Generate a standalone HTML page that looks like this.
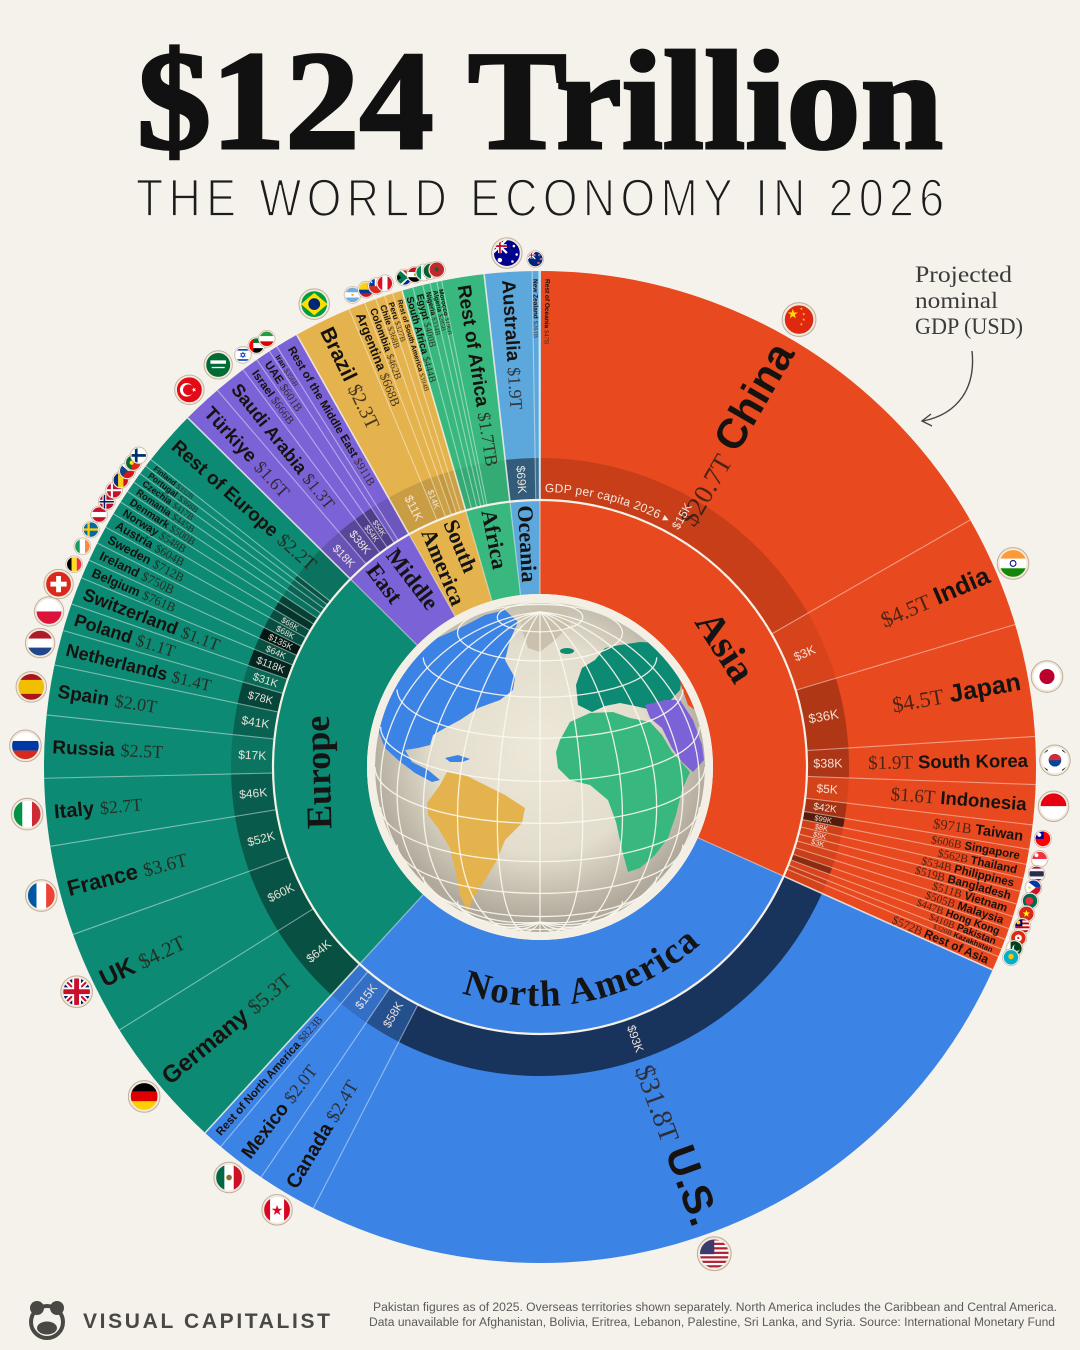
<!DOCTYPE html>
<html><head><meta charset="utf-8">
<style>
html,body{margin:0;padding:0;background:#f5f2eb;}
svg{display:block}
.n{font-family:"Liberation Sans",sans-serif;font-weight:bold;fill:#161210}
.v{font-family:"Liberation Serif",serif;fill:#2a1c14;fill-opacity:.82}
.b{font-family:"Liberation Sans",sans-serif;fill:#f7ece2;fill-opacity:.93}
.c{font-family:"Liberation Serif",serif;font-weight:bold;fill:#141414}
</style></head><body>
<svg width="1080" height="1350" viewBox="0 0 1080 1350" xmlns="http://www.w3.org/2000/svg">
<defs>
<clipPath id="fc"><circle r="10"/></clipPath>
<clipPath id="gc"><circle cx="540" cy="767" r="165"/></clipPath>
<radialGradient id="gg" cx="540" cy="748" r="172" gradientUnits="userSpaceOnUse">
<stop offset="0" stop-color="#eee8da"/><stop offset=".62" stop-color="#e3ddcd"/><stop offset="1" stop-color="#b1aa9c"/>
</radialGradient>
<line id="sep" x1="540" y1="500" x2="540" y2="271"/>
<line id="sepi" x1="540" y1="594" x2="540" y2="500"/>
<path id="naP" d="M317.95 855.36 A239 239 0 0 0 778.9 759.9" fill="none"/>
<path id="gdpP" d="M544.8 492.0 A275 275 0 0 1 716.8 556.3" fill="none"/>
<polygon id="st" points="0,-1 .225,-.309 .951,-.309 .363,.118 .588,.809 0,.382 -.588,.809 -.363,.118 -.951,-.309 -.225,-.309"/>
<g id="fo"><circle r="10" fill="none" stroke="#f2eadc" stroke-width="1.6"/><circle r="10.9" fill="none" stroke="#8f6e58" stroke-opacity=".5" stroke-width=".7"/></g>

<g id="f-cn"><g clip-path="url(#fc)"><rect x="-10" y="-10" width="20" height="20" fill="#de2910"/><use href="#st" fill="#ffde00" transform="translate(-4 -3.5) scale(3.4)"/><use href="#st" fill="#ffde00" transform="translate(1.5 -7)"/><use href="#st" fill="#ffde00" transform="translate(3 -3.5)"/><use href="#st" fill="#ffde00" transform="translate(3 0)"/><use href="#st" fill="#ffde00" transform="translate(1.5 3)"/></g><use href="#fo"/></g>
<g id="f-in"><g clip-path="url(#fc)"><rect x="-10" y="-10" width="20" height="6.7" fill="#ff9933"/><rect x="-10" y="-3.33" width="20" height="6.7" fill="#fff"/><rect x="-10" y="3.33" width="20" height="6.7" fill="#138808"/><circle r="2" fill="none" stroke="#000080" stroke-width=".7"/></g><use href="#fo"/></g>
<g id="f-jp"><g clip-path="url(#fc)"><rect x="-10" y="-10" width="20" height="20" fill="#fff"/><circle r="5.2" fill="#bc002d"/></g><use href="#fo"/></g>
<g id="f-kr"><g clip-path="url(#fc)"><rect x="-10" y="-10" width="20" height="20" fill="#fff"/><circle r="4.5" fill="#0047a0"/><path d="M-4.5 0A4.5 4.5 0 0 1 4.5 0Z" fill="#cd2e3a"/><g fill="#111"><rect x="-8.5" y="-7" width="3.5" height="1.2" transform="rotate(-35 -6.7 -6.4)"/><rect x="5" y="-7" width="3.5" height="1.2" transform="rotate(35 6.7 -6.4)"/><rect x="-8.5" y="5.8" width="3.5" height="1.2" transform="rotate(35 -6.7 6.4)"/><rect x="5" y="5.8" width="3.5" height="1.2" transform="rotate(-35 6.7 6.4)"/></g></g><use href="#fo"/></g>
<g id="f-id"><g clip-path="url(#fc)"><rect x="-10" y="-10" width="20" height="10" fill="#e70011"/><rect x="-10" y="0" width="20" height="10" fill="#fff"/></g><use href="#fo"/></g>
<g id="f-tw"><g clip-path="url(#fc)"><rect x="-10" y="-10" width="20" height="20" fill="#fe0000"/><rect x="-10" y="-10" width="11" height="10" fill="#000095"/><circle cx="-4.5" cy="-5" r="2.6" fill="#fff"/></g><use href="#fo"/></g>
<g id="f-sg"><g clip-path="url(#fc)"><rect x="-10" y="-10" width="20" height="10" fill="#ef3340"/><rect x="-10" y="0" width="20" height="10" fill="#fff"/><circle cx="-4" cy="-5" r="2.5" fill="#fff"/></g><use href="#fo"/></g>
<g id="f-th"><g clip-path="url(#fc)"><rect x="-10" y="-10" width="20" height="20" fill="#a51931"/><rect x="-10" y="-6.67" width="20" height="13.3" fill="#f4f5f8"/><rect x="-10" y="-3.33" width="20" height="6.67" fill="#2d2a4a"/></g><use href="#fo"/></g>
<g id="f-ph"><g clip-path="url(#fc)"><rect x="-10" y="-10" width="20" height="10" fill="#0038a8"/><rect x="-10" y="0" width="20" height="10" fill="#ce1126"/><polygon points="-10,-10 -10,10 3,0" fill="#fff"/><circle cx="-5" cy="0" r="1.6" fill="#fcd116"/></g><use href="#fo"/></g>
<g id="f-bd"><g clip-path="url(#fc)"><rect x="-10" y="-10" width="20" height="20" fill="#006a4e"/><circle cx="-1" r="5" fill="#f42a41"/></g><use href="#fo"/></g>
<g id="f-vn"><g clip-path="url(#fc)"><rect x="-10" y="-10" width="20" height="20" fill="#da251d"/><use href="#st" fill="#ffff00" transform="scale(5)"/></g><use href="#fo"/></g>
<g id="f-my"><g clip-path="url(#fc)"><rect x="-10" y="-10" width="20" height="20" fill="#fff"/><g fill="#cc0001"><rect x="-10" y="-10" width="20" height="2.5"/><rect x="-10" y="-5" width="20" height="2.5"/><rect x="-10" y="0" width="20" height="2.5"/><rect x="-10" y="5" width="20" height="2.5"/></g><rect x="-10" y="-10" width="10" height="10" fill="#010066"/><circle cx="-5" cy="-5" r="2.5" fill="#fc0"/></g><use href="#fo"/></g>
<g id="f-hk"><g clip-path="url(#fc)"><rect x="-10" y="-10" width="20" height="20" fill="#de2910"/><circle r="4.5" fill="#fff"/><circle r="1.5" fill="#de2910"/></g><use href="#fo"/></g>
<g id="f-pk"><g clip-path="url(#fc)"><rect x="-10" y="-10" width="20" height="20" fill="#01411c"/><rect x="-10" y="-10" width="5" height="20" fill="#fff"/><circle cx="2" r="5" fill="#fff"/><circle cx="3.4" cy="-1.2" r="4.3" fill="#01411c"/></g><use href="#fo"/></g>
<g id="f-kz"><g clip-path="url(#fc)"><rect x="-10" y="-10" width="20" height="20" fill="#00afca"/><circle cy="-1" r="3.5" fill="#fec50c"/></g><use href="#fo"/></g>
<g id="f-us"><g clip-path="url(#fc)"><rect x="-10" y="-10" width="20" height="20" fill="#fff"/><g fill="#b22234"><rect x="-10" y="-10" width="20" height="1.45"/><rect x="-10" y="-7.1" width="20" height="1.45"/><rect x="-10" y="-4.2" width="20" height="1.45"/><rect x="-10" y="-1.3" width="20" height="1.45"/><rect x="-10" y="1.6" width="20" height="1.45"/><rect x="-10" y="4.5" width="20" height="1.45"/><rect x="-10" y="7.4" width="20" height="1.45"/></g><rect x="-10" y="-10" width="10" height="10.3" fill="#3c3b6e"/></g><use href="#fo"/></g>
<g id="f-ca"><g clip-path="url(#fc)"><rect x="-10" y="-10" width="20" height="20" fill="#fff"/><rect x="-10" y="-10" width="5" height="20" fill="#d80621"/><rect x="5" y="-10" width="5" height="20" fill="#d80621"/><use href="#st" fill="#d80621" transform="translate(0 .5) scale(4)"/></g><use href="#fo"/></g>
<g id="f-mx"><g clip-path="url(#fc)"><rect x="-10" y="-10" width="6.7" height="20" fill="#006847"/><rect x="-3.33" y="-10" width="6.7" height="20" fill="#fff"/><rect x="3.33" y="-10" width="6.7" height="20" fill="#ce1126"/><circle r="2" fill="#8c6a2c"/></g><use href="#fo"/></g>
<g id="f-de"><g clip-path="url(#fc)"><rect x="-10" y="-10" width="20" height="6.7" fill="#000"/><rect x="-10" y="-3.33" width="20" height="6.7" fill="#dd0000"/><rect x="-10" y="3.33" width="20" height="6.7" fill="#ffce00"/></g><use href="#fo"/></g>
<g id="f-gb"><g clip-path="url(#fc)"><rect x="-10" y="-10" width="20" height="20" fill="#012169"/><path d="M-10-10L10 10M10-10L-10 10" stroke="#fff" stroke-width="4"/><path d="M-10-10L10 10M10-10L-10 10" stroke="#c8102e" stroke-width="1.4"/><path d="M0-10V10M-10 0H10" stroke="#fff" stroke-width="6"/><path d="M0-10V10M-10 0H10" stroke="#c8102e" stroke-width="3.4"/></g><use href="#fo"/></g>
<g id="f-fr"><g clip-path="url(#fc)"><rect x="-10" y="-10" width="6.7" height="20" fill="#0055a4"/><rect x="-3.33" y="-10" width="6.7" height="20" fill="#fff"/><rect x="3.33" y="-10" width="6.7" height="20" fill="#ef4135"/></g><use href="#fo"/></g>
<g id="f-it"><g clip-path="url(#fc)"><rect x="-10" y="-10" width="6.7" height="20" fill="#009246"/><rect x="-3.33" y="-10" width="6.7" height="20" fill="#fff"/><rect x="3.33" y="-10" width="6.7" height="20" fill="#ce2b37"/></g><use href="#fo"/></g>
<g id="f-ru"><g clip-path="url(#fc)"><rect x="-10" y="-10" width="20" height="6.7" fill="#fff"/><rect x="-10" y="-3.33" width="20" height="6.7" fill="#0039a6"/><rect x="-10" y="3.33" width="20" height="6.7" fill="#d52b1e"/></g><use href="#fo"/></g>
<g id="f-es"><g clip-path="url(#fc)"><rect x="-10" y="-10" width="20" height="20" fill="#aa151b"/><rect x="-10" y="-5" width="20" height="10" fill="#f1bf00"/></g><use href="#fo"/></g>
<g id="f-nl"><g clip-path="url(#fc)"><rect x="-10" y="-10" width="20" height="6.7" fill="#ae1c28"/><rect x="-10" y="-3.33" width="20" height="6.7" fill="#fff"/><rect x="-10" y="3.33" width="20" height="6.7" fill="#21468b"/></g><use href="#fo"/></g>
<g id="f-pl"><g clip-path="url(#fc)"><rect x="-10" y="-10" width="20" height="10" fill="#fff"/><rect x="-10" y="0" width="20" height="10" fill="#dc143c"/></g><use href="#fo"/></g>
<g id="f-ch"><g clip-path="url(#fc)"><rect x="-10" y="-10" width="20" height="20" fill="#da291c"/><rect x="-1.8" y="-6" width="3.6" height="12" fill="#fff"/><rect x="-6" y="-1.8" width="12" height="3.6" fill="#fff"/></g><use href="#fo"/></g>
<g id="f-be"><g clip-path="url(#fc)"><rect x="-10" y="-10" width="6.7" height="20" fill="#000"/><rect x="-3.33" y="-10" width="6.7" height="20" fill="#fdda24"/><rect x="3.33" y="-10" width="6.7" height="20" fill="#ef3340"/></g><use href="#fo"/></g>
<g id="f-ie"><g clip-path="url(#fc)"><rect x="-10" y="-10" width="6.7" height="20" fill="#169b62"/><rect x="-3.33" y="-10" width="6.7" height="20" fill="#fff"/><rect x="3.33" y="-10" width="6.7" height="20" fill="#ff883e"/></g><use href="#fo"/></g>
<g id="f-se"><g clip-path="url(#fc)"><rect x="-10" y="-10" width="20" height="20" fill="#006aa7"/><rect x="-4.5" y="-10" width="3" height="20" fill="#fecc00"/><rect x="-10" y="-1.5" width="20" height="3" fill="#fecc00"/></g><use href="#fo"/></g>
<g id="f-at"><g clip-path="url(#fc)"><rect x="-10" y="-10" width="20" height="20" fill="#c8102e"/><rect x="-10" y="-3.33" width="20" height="6.7" fill="#fff"/></g><use href="#fo"/></g>
<g id="f-no"><g clip-path="url(#fc)"><rect x="-10" y="-10" width="20" height="20" fill="#ba0c2f"/><rect x="-5.5" y="-10" width="5" height="20" fill="#fff"/><rect x="-10" y="-2.5" width="20" height="5" fill="#fff"/><rect x="-4" y="-10" width="2" height="20" fill="#00205b"/><rect x="-10" y="-1" width="20" height="2" fill="#00205b"/></g><use href="#fo"/></g>
<g id="f-dk"><g clip-path="url(#fc)"><rect x="-10" y="-10" width="20" height="20" fill="#c8102e"/><rect x="-4" y="-10" width="2.6" height="20" fill="#fff"/><rect x="-10" y="-1.3" width="20" height="2.6" fill="#fff"/></g><use href="#fo"/></g>
<g id="f-ro"><g clip-path="url(#fc)"><rect x="-10" y="-10" width="6.7" height="20" fill="#002b7f"/><rect x="-3.33" y="-10" width="6.7" height="20" fill="#fcd116"/><rect x="3.33" y="-10" width="6.7" height="20" fill="#ce1126"/></g><use href="#fo"/></g>
<g id="f-cz"><g clip-path="url(#fc)"><rect x="-10" y="-10" width="20" height="10" fill="#fff"/><rect x="-10" y="0" width="20" height="10" fill="#d7141a"/><polygon points="-10,-10 -10,10 1,0" fill="#11457e"/></g><use href="#fo"/></g>
<g id="f-pt"><g clip-path="url(#fc)"><rect x="-10" y="-10" width="20" height="20" fill="#da291c"/><rect x="-10" y="-10" width="8" height="20" fill="#046a38"/><circle cx="-2" r="2.6" fill="#ffe000"/></g><use href="#fo"/></g>
<g id="f-fi"><g clip-path="url(#fc)"><rect x="-10" y="-10" width="20" height="20" fill="#fff"/><rect x="-5" y="-10" width="3.5" height="20" fill="#002f6c"/><rect x="-10" y="-1.75" width="20" height="3.5" fill="#002f6c"/></g><use href="#fo"/></g>
<g id="f-tr"><g clip-path="url(#fc)"><rect x="-10" y="-10" width="20" height="20" fill="#e30a17"/><circle cx="-2" r="5" fill="#fff"/><circle cx="-.7" r="4" fill="#e30a17"/><use href="#st" fill="#fff" transform="translate(3.4 0) rotate(-18) scale(1.9)"/></g><use href="#fo"/></g>
<g id="f-sa"><g clip-path="url(#fc)"><rect x="-10" y="-10" width="20" height="20" fill="#006c35"/><rect x="-6" y="-3.5" width="12" height="2.6" fill="#fff"/><rect x="-5" y="1.5" width="10" height="1" fill="#fff"/></g><use href="#fo"/></g>
<g id="f-il"><g clip-path="url(#fc)"><rect x="-10" y="-10" width="20" height="20" fill="#fff"/><rect x="-10" y="-7.5" width="20" height="2" fill="#0038b8"/><rect x="-10" y="5.5" width="20" height="2" fill="#0038b8"/><polygon points="0,-3.5 3,1.75 -3,1.75" fill="none" stroke="#0038b8" stroke-width=".8"/><polygon points="0,3.5 3,-1.75 -3,-1.75" fill="none" stroke="#0038b8" stroke-width=".8"/></g><use href="#fo"/></g>
<g id="f-ae"><g clip-path="url(#fc)"><rect x="-10" y="-10" width="20" height="6.7" fill="#00732f"/><rect x="-10" y="-3.33" width="20" height="6.7" fill="#fff"/><rect x="-10" y="3.33" width="20" height="6.7" fill="#000"/><rect x="-10" y="-10" width="6" height="20" fill="#ff0000"/></g><use href="#fo"/></g>
<g id="f-ir"><g clip-path="url(#fc)"><rect x="-10" y="-10" width="20" height="6.7" fill="#239f40"/><rect x="-10" y="-3.33" width="20" height="6.7" fill="#fff"/><rect x="-10" y="3.33" width="20" height="6.7" fill="#da0000"/></g><use href="#fo"/></g>
<g id="f-br"><g clip-path="url(#fc)"><rect x="-10" y="-10" width="20" height="20" fill="#009c3b"/><polygon points="0,-8 9.5,0 0,8 -9.5,0" fill="#ffdf00"/><circle r="4.2" fill="#002776"/></g><use href="#fo"/></g>
<g id="f-ar"><g clip-path="url(#fc)"><rect x="-10" y="-10" width="20" height="20" fill="#74acdf"/><rect x="-10" y="-3.33" width="20" height="6.7" fill="#fff"/><circle r="1.6" fill="#f6b40e"/></g><use href="#fo"/></g>
<g id="f-co"><g clip-path="url(#fc)"><rect x="-10" y="-10" width="20" height="10" fill="#fcd116"/><rect x="-10" y="0" width="20" height="5" fill="#003893"/><rect x="-10" y="5" width="20" height="5" fill="#ce1126"/></g><use href="#fo"/></g>
<g id="f-cl"><g clip-path="url(#fc)"><rect x="-10" y="-10" width="20" height="10" fill="#fff"/><rect x="-10" y="0" width="20" height="10" fill="#d52b1e"/><rect x="-10" y="-10" width="8" height="10" fill="#0039a6"/><use href="#st" fill="#fff" transform="translate(-6 -5) scale(1.8)"/></g><use href="#fo"/></g>
<g id="f-pe"><g clip-path="url(#fc)"><rect x="-10" y="-10" width="20" height="20" fill="#d91023"/><rect x="-3.33" y="-10" width="6.7" height="20" fill="#fff"/></g><use href="#fo"/></g>
<g id="f-za"><g clip-path="url(#fc)"><rect x="-10" y="-10" width="20" height="10" fill="#de3831"/><rect x="-10" y="0" width="20" height="10" fill="#002395"/><polygon points="-10,-10 -3,-10 4,-3 10,-3 10,3 4,3 -3,10 -10,10" fill="#fff"/><polygon points="-10,-8 -4.5,-8 2.5,-1.8 10,-1.8 10,1.8 2.5,1.8 -4.5,8 -10,8" fill="#007a4d"/><polygon points="-10,-5 -10,5 -3.5,0" fill="#000"/></g><use href="#fo"/></g>
<g id="f-eg"><g clip-path="url(#fc)"><rect x="-10" y="-10" width="20" height="6.7" fill="#ce1126"/><rect x="-10" y="-3.33" width="20" height="6.7" fill="#fff"/><rect x="-10" y="3.33" width="20" height="6.7" fill="#000"/><circle r="1.5" fill="#c09300"/></g><use href="#fo"/></g>
<g id="f-ng"><g clip-path="url(#fc)"><rect x="-10" y="-10" width="20" height="20" fill="#008751"/><rect x="-3.33" y="-10" width="6.7" height="20" fill="#fff"/></g><use href="#fo"/></g>
<g id="f-dz"><g clip-path="url(#fc)"><rect x="-10" y="-10" width="10" height="20" fill="#006233"/><rect x="0" y="-10" width="10" height="20" fill="#fff"/><circle cx=".5" r="4" fill="#d21034"/><circle cx="1.8" r="3.3" fill="#f6f6f6"/></g><use href="#fo"/></g>
<g id="f-ma"><g clip-path="url(#fc)"><rect x="-10" y="-10" width="20" height="20" fill="#c1272d"/><use href="#st" fill="#006233" transform="scale(4)"/></g><use href="#fo"/></g>
<g id="f-au"><g clip-path="url(#fc)"><rect x="-10" y="-10" width="20" height="20" fill="#00008b"/><path d="M-10-10L0 0M0-10L-10 0" stroke="#fff" stroke-width="1.6"/><path d="M-5-10V0M-10-5H0" stroke="#fff" stroke-width="2.6"/><path d="M-5-10V0M-10-5H0" stroke="#c8102e" stroke-width="1.3"/><g fill="#fff"><circle cx="-5" cy="5" r="1.6"/><circle cx="5" cy="-5" r=".9"/><circle cx="7" cy="1" r=".9"/><circle cx="4" cy="6" r=".9"/></g></g><use href="#fo"/></g>
<g id="f-nz"><g clip-path="url(#fc)"><rect x="-10" y="-10" width="20" height="20" fill="#00247d"/><path d="M-10-10L0 0M0-10L-10 0" stroke="#fff" stroke-width="1.6"/><path d="M-5-10V0M-10-5H0" stroke="#fff" stroke-width="2.6"/><path d="M-5-10V0M-10-5H0" stroke="#c8102e" stroke-width="1.3"/><g fill="#cc142b" stroke="#fff" stroke-width=".4"><circle cx="5" cy="-5" r="1.2"/><circle cx="7" cy="0" r="1.2"/><circle cx="4" cy="5" r="1.2"/></g></g><use href="#fo"/></g>
</defs>

<rect width="1080" height="1350" fill="#f5f2eb"/>

<!-- Title -->
<text x="540" y="148" text-anchor="middle" font-family="Liberation Serif, serif" font-weight="bold" font-size="141" textLength="806" lengthAdjust="spacingAndGlyphs" fill="#111" stroke="#111" stroke-width="3">$124 Trillion</text>
<text transform="translate(540 216) scale(0.84 1)" x="0" y="0" text-anchor="middle" font-family="Liberation Sans, sans-serif" font-size="53" textLength="962" lengthAdjust="spacing" fill="#1c1c1c" stroke="#f5f2eb" stroke-width="1.8">THE WORLD ECONOMY IN 2026</text>

<!-- Outer ring continents -->
<g fill="none" stroke-width="229">
<circle cx="540" cy="767" r="381.5" stroke="#e8491e" stroke-dasharray="761 3000" transform="rotate(-90 540 767)"/>
<circle cx="540" cy="767" r="381.5" stroke="#3c83e6" stroke-dasharray="722.3 3000" transform="rotate(24.14 540 767)"/>
<circle cx="540" cy="767" r="381.5" stroke="#0d8a73" stroke-dasharray="615.4 3000" transform="rotate(132.47 540 767)"/>
<circle cx="540" cy="767" r="381.5" stroke="#7b62d6" stroke-dasharray="106.7 3000" transform="rotate(224.75 540 767)"/>
<circle cx="540" cy="767" r="381.5" stroke="#e4b34d" stroke-dasharray="89 3000" transform="rotate(240.63 540 767)"/>
<circle cx="540" cy="767" r="381.5" stroke="#38b77e" stroke-dasharray="65.5 3000" transform="rotate(253.85 540 767)"/>
<circle cx="540" cy="767" r="381.5" stroke="#5ca8dc" stroke-dasharray="44 3000" transform="rotate(263.53 540 767)"/>
</g>

<!-- Per-capita band -->
<g fill="none" stroke="#000" stroke-width="42">
<circle cx="540" cy="767" r="288" stroke-opacity=".14" stroke-dasharray="302.25 3000" transform="rotate(-90 540 767)"/>
<circle cx="540" cy="767" r="288" stroke-opacity=".07" stroke-dasharray="66.2 3000" transform="rotate(-29.87 540 767)"/>
<circle cx="540" cy="767" r="288" stroke-opacity=".24" stroke-dasharray="66.2 3000" transform="rotate(-16.7 540 767)"/>
<circle cx="540" cy="767" r="288" stroke-opacity=".26" stroke-dasharray="27.95 3000" transform="rotate(-3.53 540 767)"/>
<circle cx="540" cy="767" r="288" stroke-opacity=".08" stroke-dasharray="23.52 3000" transform="rotate(2.03 540 767)"/>
<circle cx="540" cy="767" r="288" stroke-opacity=".29" stroke-dasharray="14.28 3000" transform="rotate(6.71 540 767)"/>
<circle cx="540" cy="767" r="288" stroke-opacity=".62" stroke-dasharray="8.9 3000" transform="rotate(9.55 540 767)"/>
<circle cx="540" cy="767" r="288" stroke-opacity=".1" stroke-dasharray="8.24 3000" transform="rotate(11.32 540 767)"/>
<circle cx="540" cy="767" r="288" stroke-opacity=".08" stroke-dasharray="7.84 3000" transform="rotate(12.96 540 767)"/>
<circle cx="540" cy="767" r="288" stroke-opacity=".07" stroke-dasharray="7.64 3000" transform="rotate(14.52 540 767)"/>
<circle cx="540" cy="767" r="288" stroke-opacity=".08" stroke-dasharray="7.54 3000" transform="rotate(16.04 540 767)"/>
<circle cx="540" cy="767" r="288" stroke-opacity=".14" stroke-dasharray="7.44 3000" transform="rotate(17.54 540 767)"/>
<circle cx="540" cy="767" r="288" stroke-opacity=".4" stroke-dasharray="6.58 3000" transform="rotate(19.02 540 767)"/>
<circle cx="540" cy="767" r="288" stroke-opacity=".06" stroke-dasharray="6.03 3000" transform="rotate(20.33 540 767)"/>
<circle cx="540" cy="767" r="288" stroke-opacity=".14" stroke-dasharray="4.72 3000" transform="rotate(21.53 540 767)"/>
<circle cx="540" cy="767" r="288" stroke-opacity=".08" stroke-dasharray="8.39 3000" transform="rotate(22.47 540 767)"/>
<circle cx="540" cy="767" r="288" stroke-opacity=".6" stroke-dasharray="467.72 3000" transform="rotate(24.14 540 767)"/>
<circle cx="540" cy="767" r="288" stroke-opacity=".39" stroke-dasharray="35.29 3000" transform="rotate(117.19 540 767)"/>
<circle cx="540" cy="767" r="288" stroke-opacity=".14" stroke-dasharray="29.41 3000" transform="rotate(124.21 540 767)"/>
<circle cx="540" cy="767" r="288" stroke-opacity=".11" stroke-dasharray="12.11 3000" transform="rotate(130.06 540 767)"/>
<circle cx="540" cy="767" r="288" stroke-opacity=".42" stroke-dasharray="77.96 3000" transform="rotate(132.47 540 767)"/>
<circle cx="540" cy="767" r="288" stroke-opacity=".4" stroke-dasharray="61.78 3000" transform="rotate(147.98 540 767)"/>
<circle cx="540" cy="767" r="288" stroke-opacity=".35" stroke-dasharray="52.93 3000" transform="rotate(160.27 540 767)"/>
<circle cx="540" cy="767" r="288" stroke-opacity=".32" stroke-dasharray="39.71 3000" transform="rotate(170.8 540 767)"/>
<circle cx="540" cy="767" r="288" stroke-opacity=".15" stroke-dasharray="36.79 3000" transform="rotate(178.7 540 767)"/>
<circle cx="540" cy="767" r="288" stroke-opacity=".29" stroke-dasharray="29.41 3000" transform="rotate(186.02 540 767)"/>
<circle cx="540" cy="767" r="288" stroke-opacity=".5" stroke-dasharray="20.61 3000" transform="rotate(191.87 540 767)"/>
<circle cx="540" cy="767" r="288" stroke-opacity=".23" stroke-dasharray="16.19 3000" transform="rotate(195.97 540 767)"/>
<circle cx="540" cy="767" r="288" stroke-opacity=".73" stroke-dasharray="16.19 3000" transform="rotate(199.19 540 767)"/>
<circle cx="540" cy="767" r="288" stroke-opacity=".42" stroke-dasharray="11.21 3000" transform="rotate(202.41 540 767)"/>
<circle cx="540" cy="767" r="288" stroke-opacity=".83" stroke-dasharray="11.01 3000" transform="rotate(204.64 540 767)"/>
<circle cx="540" cy="767" r="288" stroke-opacity=".44" stroke-dasharray="10.46 3000" transform="rotate(206.83 540 767)"/>
<circle cx="540" cy="767" r="288" stroke-opacity=".43" stroke-dasharray="8.9 3000" transform="rotate(208.91 540 767)"/>
<circle cx="540" cy="767" r="288" stroke-opacity=".62" stroke-dasharray="8.04 3000" transform="rotate(210.68 540 767)"/>
<circle cx="540" cy="767" r="288" stroke-opacity=".53" stroke-dasharray="7.34 3000" transform="rotate(212.28 540 767)"/>
<circle cx="540" cy="767" r="288" stroke-opacity=".18" stroke-dasharray="6.53 3000" transform="rotate(213.74 540 767)"/>
<circle cx="540" cy="767" r="288" stroke-opacity=".27" stroke-dasharray="6.13 3000" transform="rotate(215.04 540 767)"/>
<circle cx="540" cy="767" r="288" stroke-opacity=".25" stroke-dasharray="5.43 3000" transform="rotate(216.26 540 767)"/>
<circle cx="540" cy="767" r="288" stroke-opacity=".39" stroke-dasharray="4.88 3000" transform="rotate(217.34 540 767)"/>
<circle cx="540" cy="767" r="288" stroke-opacity=".17" stroke-dasharray="32.37 3000" transform="rotate(218.31 540 767)"/>
<circle cx="540" cy="767" r="288" stroke-opacity=".15" stroke-dasharray="23.52 3000" transform="rotate(224.75 540 767)"/>
<circle cx="540" cy="767" r="288" stroke-opacity=".27" stroke-dasharray="19.1 3000" transform="rotate(229.43 540 767)"/>
<circle cx="540" cy="767" r="288" stroke-opacity=".36" stroke-dasharray="9.8 3000" transform="rotate(233.23 540 767)"/>
<circle cx="540" cy="767" r="288" stroke-opacity=".36" stroke-dasharray="8.85 3000" transform="rotate(235.18 540 767)"/>
<circle cx="540" cy="767" r="288" stroke-opacity=".08" stroke-dasharray="5.13 3000" transform="rotate(236.94 540 767)"/>
<circle cx="540" cy="767" r="288" stroke-opacity=".11" stroke-dasharray="13.42 3000" transform="rotate(237.96 540 767)"/>
<circle cx="540" cy="767" r="288" stroke-opacity=".12" stroke-dasharray="33.83 3000" transform="rotate(240.63 540 767)"/>
<circle cx="540" cy="767" r="288" stroke-opacity=".13" stroke-dasharray="9.8 3000" transform="rotate(247.36 540 767)"/>
<circle cx="540" cy="767" r="288" stroke-opacity=".1" stroke-dasharray="6.79 3000" transform="rotate(249.31 540 767)"/>
<circle cx="540" cy="767" r="288" stroke-opacity=".15" stroke-dasharray="5.43 3000" transform="rotate(250.66 540 767)"/>
<circle cx="540" cy="767" r="288" stroke-opacity=".1" stroke-dasharray="4.83 3000" transform="rotate(251.74 540 767)"/>
<circle cx="540" cy="767" r="288" stroke-opacity=".1" stroke-dasharray="5.78 3000" transform="rotate(252.7 540 767)"/>
<circle cx="540" cy="767" r="288" stroke-opacity=".065" stroke-dasharray="48.66 3000" transform="rotate(253.85 540 767)"/>
<circle cx="540" cy="767" r="288" stroke-opacity=".45" stroke-dasharray="27.95 3000" transform="rotate(263.53 540 767)"/>
<circle cx="540" cy="767" r="288" stroke-opacity=".34" stroke-dasharray="3.82 3000" transform="rotate(269.09 540 767)"/>
</g>

<!-- Inner continent ring -->
<g fill="none" stroke-width="94">
<circle cx="540" cy="767" r="220" stroke="#e8491e" stroke-dasharray="439.3 2000" transform="rotate(-90 540 767)"/>
<circle cx="540" cy="767" r="220" stroke="#3c83e6" stroke-dasharray="417 2000" transform="rotate(24.14 540 767)"/>
<circle cx="540" cy="767" r="220" stroke="#0d8a73" stroke-dasharray="355.3 2000" transform="rotate(132.47 540 767)"/>
<circle cx="540" cy="767" r="220" stroke="#7b62d6" stroke-dasharray="62 2000" transform="rotate(224.75 540 767)"/>
<circle cx="540" cy="767" r="220" stroke="#e4b34d" stroke-dasharray="51.8 2000" transform="rotate(240.63 540 767)"/>
<circle cx="540" cy="767" r="220" stroke="#38b77e" stroke-dasharray="38.2 2000" transform="rotate(253.85 540 767)"/>
<circle cx="540" cy="767" r="220" stroke="#5ca8dc" stroke-dasharray="25 2000" transform="rotate(263.53 540 767)"/>
</g>

<!-- Separators -->
<g stroke="#fff" stroke-opacity=".45" stroke-width="1.1">
<use href="#sep" transform="rotate(60.13 540 767)"/><use href="#sep" transform="rotate(73.3 540 767)"/><use href="#sep" transform="rotate(86.47 540 767)"/><use href="#sep" transform="rotate(92.03 540 767)"/><use href="#sep" transform="rotate(96.71 540 767)"/><use href="#sep" transform="rotate(99.55 540 767)"/><use href="#sep" transform="rotate(101.32 540 767)"/><use href="#sep" transform="rotate(102.96 540 767)"/><use href="#sep" transform="rotate(104.52 540 767)"/><use href="#sep" transform="rotate(106.04 540 767)"/><use href="#sep" transform="rotate(107.54 540 767)"/><use href="#sep" transform="rotate(109.02 540 767)"/><use href="#sep" transform="rotate(110.33 540 767)"/><use href="#sep" transform="rotate(111.53 540 767)"/><use href="#sep" transform="rotate(112.47 540 767)"/>
<use href="#sep" transform="rotate(207.19 540 767)"/><use href="#sep" transform="rotate(214.21 540 767)"/><use href="#sep" transform="rotate(220.06 540 767)"/>
<use href="#sep" transform="rotate(237.98 540 767)"/><use href="#sep" transform="rotate(250.27 540 767)"/><use href="#sep" transform="rotate(260.8 540 767)"/><use href="#sep" transform="rotate(268.7 540 767)"/><use href="#sep" transform="rotate(276.02 540 767)"/><use href="#sep" transform="rotate(281.87 540 767)"/><use href="#sep" transform="rotate(285.97 540 767)"/><use href="#sep" transform="rotate(289.19 540 767)"/><use href="#sep" transform="rotate(292.41 540 767)"/><use href="#sep" transform="rotate(294.64 540 767)"/><use href="#sep" transform="rotate(296.83 540 767)"/><use href="#sep" transform="rotate(298.91 540 767)"/><use href="#sep" transform="rotate(300.68 540 767)"/><use href="#sep" transform="rotate(302.28 540 767)"/><use href="#sep" transform="rotate(303.74 540 767)"/><use href="#sep" transform="rotate(305.04 540 767)"/><use href="#sep" transform="rotate(306.26 540 767)"/><use href="#sep" transform="rotate(307.34 540 767)"/><use href="#sep" transform="rotate(308.31 540 767)"/>
<use href="#sep" transform="rotate(319.43 540 767)"/><use href="#sep" transform="rotate(323.23 540 767)"/><use href="#sep" transform="rotate(325.18 540 767)"/><use href="#sep" transform="rotate(326.94 540 767)"/><use href="#sep" transform="rotate(327.96 540 767)"/>
<use href="#sep" transform="rotate(337.36 540 767)"/><use href="#sep" transform="rotate(339.31 540 767)"/><use href="#sep" transform="rotate(340.66 540 767)"/><use href="#sep" transform="rotate(341.74 540 767)"/><use href="#sep" transform="rotate(342.7 540 767)"/>
<use href="#sep" transform="rotate(345.15 540 767)"/><use href="#sep" transform="rotate(346.32 540 767)"/><use href="#sep" transform="rotate(347.2 540 767)"/><use href="#sep" transform="rotate(347.99 540 767)"/><use href="#sep" transform="rotate(348.56 540 767)"/>
<use href="#sep" transform="rotate(359.09 540 767)"/><use href="#sep" transform="rotate(359.85 540 767)"/>
</g>
<g stroke="#fbf6ee" stroke-opacity=".8" stroke-width="1.6">
<use href="#sep" transform="rotate(0 540 767)"/><use href="#sep" transform="rotate(114.14 540 767)"/><use href="#sep" transform="rotate(222.47 540 767)"/><use href="#sep" transform="rotate(314.75 540 767)"/><use href="#sep" transform="rotate(330.63 540 767)"/><use href="#sep" transform="rotate(343.85 540 767)"/><use href="#sep" transform="rotate(353.53 540 767)"/>
</g>
<g stroke="#fbf6ee" stroke-opacity=".5" stroke-width="1.2">
<use href="#sepi" transform="rotate(0 540 767)"/><use href="#sepi" transform="rotate(114.14 540 767)"/><use href="#sepi" transform="rotate(222.47 540 767)"/><use href="#sepi" transform="rotate(314.75 540 767)"/><use href="#sepi" transform="rotate(330.63 540 767)"/><use href="#sepi" transform="rotate(343.85 540 767)"/><use href="#sepi" transform="rotate(353.53 540 767)"/>
</g>
<circle cx="540" cy="767" r="267" fill="none" stroke="#f6f0e6" stroke-width="2.2"/>

<!-- Globe -->
<circle cx="540" cy="767" r="165" fill="url(#gg)"/>
<g clip-path="url(#gc)">
<polygon fill="#c9c1ad" points="520,612 545,606 568,612 570,625 555,640 540,652 528,648 522,630"/>
<polygon fill="#3c83e6" points="420,647 437,638 460,628 485,615 505,610 518,622 510,640 505,660 515,678 513,690 500,700 478,708 460,720 445,728 433,735 430,745 418,748 405,750 412,762 428,770 440,780 432,782 415,773 398,760 385,748 378,730 380,700 388,680 400,662"/>
<polygon fill="#3c83e6" points="445,758 458,755 470,759 462,762 450,762"/>
<polygon fill="#e4b34d" points="427,803 440,785 447,772 465,775 485,785 505,795 525,808 522,823 505,840 497,860 485,880 472,900 468,912 460,895 455,870 450,848 438,828 428,815"/>
<polygon fill="#38b77e" points="560,740 570,722 590,713 613,712 630,718 650,722 662,735 672,752 690,772 682,790 676,815 668,838 655,855 640,868 628,872 622,850 616,822 608,800 590,785 570,780 558,768 556,752"/>
<polygon fill="#0d8a73" points="578,705 576,685 582,668 595,660 605,648 620,645 640,642 660,643 675,652 683,670 680,690 668,703 652,710 635,706 620,703 605,706 592,712"/>
<ellipse cx="567" cy="651" rx="7" ry="3" fill="#0d8a73"/>
<polygon fill="#7b62d6" points="645,705 665,700 680,700 693,720 702,745 704,760 693,772 682,762 672,748 662,728 650,718"/>
<polygon fill="#e8491e" points="680,682 695,679 703,700 698,712 688,705"/>
<g fill="none" stroke="#fbf8f0" stroke-width="1.3" stroke-opacity=".9">
<path d="M375,767 A165 56.43 0 0 0 705,767"/>
<path d="M380.62,726.87 A159.38 54.51 0 0 0 699.38,726.87"/>
<path d="M397.11,689.47 A142.89 48.87 0 0 0 682.89,689.47"/>
<path d="M423.33,657.36 A116.67 39.9 0 0 0 656.67,657.36"/>
<ellipse cx="540" cy="632.72" rx="82.5" ry="28.22"/>
<ellipse cx="540" cy="617.23" rx="42.71" ry="14.61"/>
<path d="M380.62,807.13 A159.38 54.51 0 0 0 699.38,807.13"/>
<path d="M397.11,844.53 A142.89 48.87 0 0 0 682.89,844.53"/>
<path d="M423.33,876.64 A116.67 39.9 0 0 0 656.67,876.64"/>
<path d="M457.5,901.28 A82.5 28.22 0 0 0 622.5,901.28"/>
<path d="M540,612 L540,932"/>
<path vector-effect="non-scaling-stroke" d="M0,-165 A42.7 165 0 0 1 0,165" transform="translate(540 767) matrix(1 1.2764 0 0.94 0 0)"/>
<path vector-effect="non-scaling-stroke" d="M0,-165 A82.5 165 0 0 1 0,165" transform="translate(540 767) matrix(1 0.5923 0 0.94 0 0)"/>
<path vector-effect="non-scaling-stroke" d="M0,-165 A116.67 165 0 0 1 0,165" transform="translate(540 767) matrix(1 0.342 0 0.94 0 0)"/>
<path vector-effect="non-scaling-stroke" d="M0,-165 A142.89 165 0 0 1 0,165" transform="translate(540 767) matrix(1 0.1975 0 0.94 0 0)"/>
<path vector-effect="non-scaling-stroke" d="M0,-165 A159.38 165 0 0 1 0,165" transform="translate(540 767) matrix(1 0.0916 0 0.94 0 0)"/>
<path vector-effect="non-scaling-stroke" d="M0,-165 A42.7 165 0 0 0 0,165" transform="translate(540 767) matrix(1 -1.2764 0 0.94 0 0)"/>
<path vector-effect="non-scaling-stroke" d="M0,-165 A82.5 165 0 0 0 0,165" transform="translate(540 767) matrix(1 -0.5923 0 0.94 0 0)"/>
<path vector-effect="non-scaling-stroke" d="M0,-165 A116.67 165 0 0 0 0,165" transform="translate(540 767) matrix(1 -0.342 0 0.94 0 0)"/>
<path vector-effect="non-scaling-stroke" d="M0,-165 A142.89 165 0 0 0 0,165" transform="translate(540 767) matrix(1 -0.1975 0 0.94 0 0)"/>
<path vector-effect="non-scaling-stroke" d="M0,-165 A159.38 165 0 0 0 0,165" transform="translate(540 767) matrix(1 -0.0916 0 0.94 0 0)"/>
</g>
</g>
<circle cx="540" cy="767" r="169" fill="none" stroke="#f4efe5" stroke-width="8"/>

<!-- Country labels right side -->
<text transform="rotate(-60 540 767)" x="1026" y="781.3" text-anchor="end"><tspan class="v" font-size="27">$20.7T</tspan><tspan class="n" dx="8" font-size="42">China</tspan></text>
<text transform="rotate(-23.28 540 767)" x="1028" y="775.5" text-anchor="end"><tspan class="v" font-size="22">$4.5T</tspan><tspan class="n" dx="6" font-size="25">India</tspan></text>
<text transform="rotate(-10.12 540 767)" x="1028" y="775.5" text-anchor="end"><tspan class="v" font-size="22">$4.5T</tspan><tspan class="n" dx="6" font-size="25">Japan</tspan></text>
<text transform="rotate(-0.75 540 767)" x="1028" y="773.3" text-anchor="end"><tspan class="v" font-size="19">$1.9T</tspan><tspan class="n" dx="5" font-size="18.5">South Korea</tspan></text>
<text transform="rotate(4.37 540 767)" x="1028" y="773.3" text-anchor="end"><tspan class="v" font-size="19">$1.6T</tspan><tspan class="n" dx="5" font-size="18.5">Indonesia</tspan></text>
<text transform="rotate(8.13 540 767)" x="1028" y="771.9" text-anchor="end"><tspan class="v" font-size="14.5">$971B</tspan><tspan class="n" dx="4" font-size="14.5">Taiwan</tspan></text>
<text transform="rotate(10.44 540 767)" x="1028" y="770.9" text-anchor="end"><tspan class="v" font-size="11.5">$606B</tspan><tspan class="n" dx="3" font-size="11.5">Singapore</tspan></text>
<text transform="rotate(12.14 540 767)" x="1028" y="770.9" text-anchor="end"><tspan class="v" font-size="11.5">$562B</tspan><tspan class="n" dx="3" font-size="11.5">Thailand</tspan></text>
<text transform="rotate(13.74 540 767)" x="1028" y="770.9" text-anchor="end"><tspan class="v" font-size="11.5">$534B</tspan><tspan class="n" dx="3" font-size="11.5">Philippines</tspan></text>
<text transform="rotate(15.28 540 767)" x="1028" y="770.9" text-anchor="end"><tspan class="v" font-size="11.5">$519B</tspan><tspan class="n" dx="3" font-size="11.5">Bangladesh</tspan></text>
<text transform="rotate(16.79 540 767)" x="1028" y="770.9" text-anchor="end"><tspan class="v" font-size="11.5">$511B</tspan><tspan class="n" dx="3" font-size="11.5">Vietnam</tspan></text>
<text transform="rotate(18.28 540 767)" x="1028" y="770.9" text-anchor="end"><tspan class="v" font-size="11.5">$505B</tspan><tspan class="n" dx="3" font-size="11.5">Malaysia</tspan></text>
<text transform="rotate(19.67 540 767)" x="1028" y="770.6" text-anchor="end"><tspan class="v" font-size="10.5">$447B</tspan><tspan class="n" dx="3" font-size="10.5">Hong Kong</tspan></text>
<text transform="rotate(20.93 540 767)" x="1028" y="770.4" text-anchor="end"><tspan class="v" font-size="10">$410B</tspan><tspan class="n" dx="3" font-size="10">Pakistan</tspan></text>
<text transform="rotate(22 540 767)" x="1028" y="769.6" text-anchor="end"><tspan class="v" font-size="7.5">$320B</tspan><tspan class="n" dx="2" font-size="7.5">Kazakhstan</tspan></text>
<text transform="rotate(23.31 540 767)" x="1028" y="771.1" text-anchor="end"><tspan class="v" font-size="12">$572B</tspan><tspan class="n" dx="3" font-size="12">Rest of Asia</tspan></text>
<text transform="rotate(70 540 767)" x="1026" y="781.3" text-anchor="end"><tspan class="v" font-size="28">$31.8T</tspan><tspan class="n" dx="8" font-size="42">U.S.</tspan></text>

<!-- Country labels left side -->
<text transform="rotate(300.7 540 767)" x="52" y="773.8"><tspan class="n" font-size="20">Canada</tspan><tspan class="v" dx="5" font-size="19">$2.4T</tspan></text>
<text transform="rotate(307.14 540 767)" x="52" y="773.5"><tspan class="n" font-size="19">Mexico</tspan><tspan class="v" dx="5" font-size="18">$2.0T</tspan></text>
<text transform="rotate(311.27 540 767)" x="52" y="770.9"><tspan class="n" font-size="11.5">Rest of North America</tspan><tspan class="v" dx="3" font-size="11.5">$823B</tspan></text>
<text transform="rotate(320.23 540 767)" x="52" y="775.2"><tspan class="n" font-size="24">Germany</tspan><tspan class="v" dx="6" font-size="21">$5.3T</tspan></text>
<text transform="rotate(334.13 540 767)" x="52" y="775.5"><tspan class="n" font-size="25">UK</tspan><tspan class="v" dx="6" font-size="21">$4.2T</tspan></text>
<text transform="rotate(345.54 540 767)" x="52" y="774.5"><tspan class="n" font-size="22">France</tspan><tspan class="v" dx="6" font-size="19">$3.6T</tspan></text>
<text transform="rotate(354.75 540 767)" x="52" y="773.8"><tspan class="n" font-size="20">Italy</tspan><tspan class="v" dx="6" font-size="18">$2.7T</tspan></text>
<text transform="rotate(362.36 540 767)" x="52" y="773.5"><tspan class="n" font-size="19">Russia</tspan><tspan class="v" dx="6" font-size="18">$2.5T</tspan></text>
<text transform="rotate(368.95 540 767)" x="52" y="773.5"><tspan class="n" font-size="19">Spain</tspan><tspan class="v" dx="6" font-size="18">$2.0T</tspan></text>
<text transform="rotate(373.92 540 767)" x="52" y="773.1"><tspan class="n" font-size="18">Netherlands</tspan><tspan class="v" dx="5" font-size="17">$1.4T</tspan></text>
<text transform="rotate(377.58 540 767)" x="52" y="773.1"><tspan class="n" font-size="18">Poland</tspan><tspan class="v" dx="5" font-size="17">$1.1T</tspan></text>
<text transform="rotate(380.8 540 767)" x="52" y="773.1"><tspan class="n" font-size="18">Switzerland</tspan><tspan class="v" dx="5" font-size="17">$1.1T</tspan></text>
<text transform="rotate(383.52 540 767)" x="52" y="771.4"><tspan class="n" font-size="13">Belgium</tspan><tspan class="v" dx="4" font-size="13">$761B</tspan></text>
<text transform="rotate(385.74 540 767)" x="52" y="771.4"><tspan class="n" font-size="13">Ireland</tspan><tspan class="v" dx="4" font-size="13">$750B</tspan></text>
<text transform="rotate(387.87 540 767)" x="52" y="771.3"><tspan class="n" font-size="12.5">Sweden</tspan><tspan class="v" dx="4" font-size="12.5">$712B</tspan></text>
<text transform="rotate(389.8 540 767)" x="52" y="771.1"><tspan class="n" font-size="12">Austria</tspan><tspan class="v" dx="4" font-size="12">$604B</tspan></text>
<text transform="rotate(391.48 540 767)" x="52" y="770.7"><tspan class="n" font-size="11">Norway</tspan><tspan class="v" dx="3" font-size="11">$548B</tspan></text>
<text transform="rotate(393.01 540 767)" x="52" y="770.6"><tspan class="n" font-size="10.5">Denmark</tspan><tspan class="v" dx="3" font-size="10.5">$500B</tspan></text>
<text transform="rotate(394.39 540 767)" x="52" y="770.2"><tspan class="n" font-size="9.5">Romania</tspan><tspan class="v" dx="3" font-size="9.5">$445B</tspan></text>
<text transform="rotate(395.65 540 767)" x="52" y="770.1"><tspan class="n" font-size="9">Czechia</tspan><tspan class="v" dx="3" font-size="9">$417B</tspan></text>
<text transform="rotate(396.8 540 767)" x="52" y="769.9"><tspan class="n" font-size="8.5">Portugal</tspan><tspan class="v" dx="3" font-size="8.5">$368B</tspan></text>
<text transform="rotate(397.83 540 767)" x="52" y="769.6"><tspan class="n" font-size="7.5">Finland</tspan><tspan class="v" dx="2" font-size="7.5">$332B</tspan></text>
<text transform="rotate(401.53 540 767)" x="52" y="773.5"><tspan class="n" font-size="19">Rest of Europe</tspan><tspan class="v" dx="6" font-size="19">$2.2T</tspan></text>
<text transform="rotate(407.09 540 767)" x="52" y="773.5"><tspan class="n" font-size="19">Türkiye</tspan><tspan class="v" dx="6" font-size="18">$1.6T</tspan></text>
<text transform="rotate(411.33 540 767)" x="52" y="773.1"><tspan class="n" font-size="18">Saudi Arabia</tspan><tspan class="v" dx="5" font-size="17">$1.3T</tspan></text>
<text transform="rotate(414.21 540 767)" x="52" y="770.9"><tspan class="n" font-size="11.5">Israel</tspan><tspan class="v" dx="3" font-size="11.5">$666B</tspan></text>
<text transform="rotate(416.06 540 767)" x="52" y="770.9"><tspan class="n" font-size="11.5">UAE</tspan><tspan class="v" dx="3" font-size="11.5">$601B</tspan></text>
<text transform="rotate(417.45 540 767)" x="52" y="769.6"><tspan class="n" font-size="7.5">Iran</tspan><tspan class="v" dx="2" font-size="7.5">$356B</tspan></text>
<text transform="rotate(419.3 540 767)" x="52" y="770.9"><tspan class="n" font-size="11.5">Rest of the Middle East</tspan><tspan class="v" dx="3" font-size="11.5">$911B</tspan></text>
<text transform="rotate(424 540 767)" x="52" y="774.1"><tspan class="n" font-size="21">Brazil</tspan><tspan class="v" dx="6" font-size="20">$2.3T</tspan></text>
<text transform="rotate(428.34 540 767)" x="52" y="771.4"><tspan class="n" font-size="13">Argentina</tspan><tspan class="v" dx="4" font-size="13">$668B</tspan></text>
<text transform="rotate(429.99 540 767)" x="52" y="770.4"><tspan class="n" font-size="10">Colombia</tspan><tspan class="v" dx="3" font-size="10">$462B</tspan></text>
<text transform="rotate(431.2 540 767)" x="52" y="769.9"><tspan class="n" font-size="8.5">Chile</tspan><tspan class="v" dx="2" font-size="8.5">$368B</tspan></text>
<text transform="rotate(432.22 540 767)" x="52" y="769.7"><tspan class="n" font-size="8">Peru</tspan><tspan class="v" dx="2" font-size="8">$327B</tspan></text>
<text transform="rotate(433.28 540 767)" x="52" y="769.4"><tspan class="n" font-size="7">Rest of South America</tspan><tspan class="v" dx="2" font-size="7">$394B</tspan></text>
<text transform="rotate(434.5 540 767)" x="52" y="770.4"><tspan class="n" font-size="10">South Africa</tspan><tspan class="v" dx="3" font-size="10">$444B</tspan></text>
<text transform="rotate(435.74 540 767)" x="52" y="770.2"><tspan class="n" font-size="9.5">Egypt</tspan><tspan class="v" dx="3" font-size="9.5">$400B</tspan></text>
<text transform="rotate(436.76 540 767)" x="52" y="769.4"><tspan class="n" font-size="7">Nigeria</tspan><tspan class="v" dx="2" font-size="7">$334B</tspan></text>
<text transform="rotate(437.6 540 767)" x="52" y="769.2"><tspan class="n" font-size="6.5">Algeria</tspan><tspan class="v" dx="2" font-size="6.5">$285B</tspan></text>
<text transform="rotate(438.28 540 767)" x="52" y="769.2"><tspan class="n" font-size="6.5">Morocco</tspan><tspan class="v" dx="2" font-size="6.5">$196B</tspan></text>
<text transform="rotate(441.05 540 767)" x="52" y="773.5"><tspan class="n" font-size="19">Rest of Africa</tspan><tspan class="v" dx="6" font-size="18">$1.7TB</tspan></text>
<text transform="rotate(446.31 540 767)" x="52" y="773.5"><tspan class="n" font-size="19">Australia</tspan><tspan class="v" dx="6" font-size="18">$1.9T</tspan></text>
<text transform="rotate(449.47 540 767)" x="52" y="769.2"><tspan class="n" font-size="6.5">New Zealand</tspan><tspan class="v" dx="2" font-size="6.5">$261B</tspan></text>
<text transform="rotate(450.9 540 767)" x="52" y="769.2"><tspan class="n" font-size="6.5">Rest of Oceania</tspan><tspan class="v" dx="2" font-size="6.5">$47B</tspan></text>

<!-- Per capita band labels -->
<g class="b" text-anchor="middle">
<text transform="rotate(-60.5 540 767)" x="828" y="771.1" font-size="12">$15K</text>
<text transform="rotate(-23.28 540 767)" x="828" y="771.3" font-size="12.5">$3K</text>
<text transform="rotate(-10.12 540 767)" x="828" y="771.4" font-size="13">$36K</text>
<text transform="rotate(-0.75 540 767)" x="828" y="771.3" font-size="12.5">$38K</text>
<text transform="rotate(4.37 540 767)" x="828" y="771.1" font-size="12">$5K</text>
<text transform="rotate(8.13 540 767)" x="828" y="770.4" font-size="10">$42K</text>
<text transform="rotate(10.44 540 767)" x="828" y="769.6" font-size="7.5">$99K</text>
<text transform="rotate(12.14 540 767)" x="828" y="769.6" font-size="7.5">$8K</text>
<text transform="rotate(13.74 540 767)" x="828" y="769.6" font-size="7.5">$5K</text>
<text transform="rotate(15.28 540 767)" x="828" y="769.6" font-size="7.5">$3K</text>
<text transform="rotate(70.67 540 767)" x="828" y="771.1" font-size="12">$93K</text>
<text transform="rotate(300.7 540 767)" x="252" y="771.1" font-size="12">$58K</text>
<text transform="rotate(307.14 540 767)" x="252" y="771.1" font-size="12">$15K</text>
<text transform="rotate(320.23 540 767)" x="252" y="771.1" font-size="12">$64K</text>
<text transform="rotate(334.13 540 767)" x="252" y="771.1" font-size="12">$60K</text>
<text transform="rotate(345.54 540 767)" x="252" y="771.1" font-size="12">$52K</text>
<text transform="rotate(354.75 540 767)" x="252" y="771.1" font-size="12">$46K</text>
<text transform="rotate(362.36 540 767)" x="252" y="771.1" font-size="12">$17K</text>
<text transform="rotate(368.95 540 767)" x="252" y="771.1" font-size="12">$41K</text>
<text transform="rotate(373.92 540 767)" x="252" y="770.7" font-size="11">$78K</text>
<text transform="rotate(377.58 540 767)" x="252" y="770.7" font-size="11">$31K</text>
<text transform="rotate(380.8 540 767)" x="252" y="770.6" font-size="10.5">$118K</text>
<text transform="rotate(383.52 540 767)" x="252" y="770.1" font-size="9">$64K</text>
<text transform="rotate(385.74 540 767)" x="252" y="770.1" font-size="9">$135K</text>
<text transform="rotate(387.87 540 767)" x="252" y="769.9" font-size="8.5">$68K</text>
<text transform="rotate(389.8 540 767)" x="252" y="769.7" font-size="8">$66K</text>
<text transform="rotate(407.09 540 767)" x="252" y="770.9" font-size="11.5">$18K</text>
<text transform="rotate(411.33 540 767)" x="252" y="770.9" font-size="11.5">$38K</text>
<text transform="rotate(414.21 540 767)" x="252" y="769.7" font-size="8">$54K</text>
<text transform="rotate(416.06 540 767)" x="252" y="769.6" font-size="7.5">$54K</text>
<text transform="rotate(424 540 767)" x="252" y="771.1" font-size="12">$11K</text>
<text transform="rotate(428.34 540 767)" x="252" y="769.9" font-size="8.5">$14K</text>
<text transform="rotate(446.31 540 767)" x="252" y="771.1" font-size="12">$69K</text>
</g>
<text font-family="Liberation Sans, sans-serif" font-size="12" fill="#f8e8dd" letter-spacing=".3"><textPath href="#gdpP">GDP per capita 2026 ▸</textPath></text>

<!-- Continent labels -->
<text class="c" font-size="40" text-anchor="middle" transform="rotate(57.07 540 767)" x="540" y="559">Asia</text>
<text class="c" font-size="36" text-anchor="middle" transform="rotate(268.6 540 767)" x="540" y="557">Europe</text>
<text class="c" font-size="37" letter-spacing="1.5"><textPath href="#naP" startOffset="50%" text-anchor="middle">North America</textPath></text>
<g class="c" font-size="23">
<text transform="rotate(412.69 540 767)" x="278" y="762.1">Middle</text>
<text transform="rotate(412.69 540 767)" x="278" y="787.1">East</text>
</g>
<g class="c" font-size="22">
<text transform="rotate(427.24 540 767)" x="278" y="762.1">South</text>
<text transform="rotate(427.24 540 767)" x="278" y="786.1">America</text>
<text transform="rotate(438.69 540 767)" x="278" y="774.5">Africa</text>
<text transform="rotate(446.77 540 767)" x="278" y="774.5">Oceania</text>
</g>

<!-- Flags big -->
<use href="#f-cn" transform="rotate(30.07 540 767) translate(540 250) rotate(-30.07) scale(1.55)"/>
<use href="#f-in" transform="rotate(66.72 540 767) translate(540 252) rotate(-66.72) scale(1.45)"/>
<use href="#f-jp" transform="rotate(79.88 540 767) translate(540 252) rotate(-79.88) scale(1.45)"/>
<use href="#f-kr" transform="rotate(89.25 540 767) translate(540 252) rotate(-89.25) scale(1.4)"/>
<use href="#f-id" transform="rotate(94.37 540 767) translate(540 252) rotate(-94.37) scale(1.4)"/>
<use href="#f-us" transform="rotate(160.3 540 767) translate(540 250) rotate(-160.3) scale(1.55)"/>
<use href="#f-ca" transform="rotate(210.7 540 767) translate(540 252) rotate(-210.7) scale(1.4)"/>
<use href="#f-mx" transform="rotate(217.14 540 767) translate(540 252) rotate(-217.14) scale(1.4)"/>
<use href="#f-de" transform="rotate(230.23 540 767) translate(540 252) rotate(-230.23) scale(1.45)"/>
<use href="#f-gb" transform="rotate(244.13 540 767) translate(540 252) rotate(-244.13) scale(1.45)"/>
<use href="#f-fr" transform="rotate(255.54 540 767) translate(540 252) rotate(-255.54) scale(1.45)"/>
<use href="#f-it" transform="rotate(264.75 540 767) translate(540 252) rotate(-264.75) scale(1.45)"/>
<use href="#f-ru" transform="rotate(272.36 540 767) translate(540 252) rotate(-272.36) scale(1.45)"/>
<use href="#f-es" transform="rotate(278.95 540 767) translate(540 252) rotate(-278.95) scale(1.4)"/>
<use href="#f-nl" transform="rotate(283.92 540 767) translate(540 252) rotate(-283.92) scale(1.35)"/>
<use href="#f-pl" transform="rotate(287.58 540 767) translate(540 252) rotate(-287.58) scale(1.35)"/>
<use href="#f-ch" transform="rotate(290.8 540 767) translate(540 252) rotate(-290.8) scale(1.35)"/>
<use href="#f-tr" transform="rotate(317.09 540 767) translate(540 252) rotate(-317.09) scale(1.35)"/>
<use href="#f-sa" transform="rotate(321.33 540 767) translate(540 252) rotate(-321.33) scale(1.3)"/>
<use href="#f-br" transform="rotate(334 540 767) translate(540 252) rotate(-334) scale(1.4)"/>
<use href="#f-au" transform="rotate(356.31 540 767) translate(540 252) rotate(-356.31) scale(1.4)"/>
<!-- Flags small -->
<use href="#f-tw" transform="rotate(98.13 540 767) translate(540 259) rotate(-98.13) scale(.8)"/>
<use href="#f-sg" transform="rotate(100.44 540 767) translate(540 259) rotate(-100.44) scale(.78)"/>
<use href="#f-th" transform="rotate(102.14 540 767) translate(540 259) rotate(-102.14) scale(.78)"/>
<use href="#f-ph" transform="rotate(103.74 540 767) translate(540 259) rotate(-103.74) scale(.78)"/>
<use href="#f-bd" transform="rotate(105.28 540 767) translate(540 259) rotate(-105.28) scale(.78)"/>
<use href="#f-vn" transform="rotate(106.79 540 767) translate(540 259) rotate(-106.79) scale(.78)"/>
<use href="#f-my" transform="rotate(108.28 540 767) translate(540 259) rotate(-108.28) scale(.78)"/>
<use href="#f-hk" transform="rotate(109.67 540 767) translate(540 259) rotate(-109.67) scale(.78)"/>
<use href="#f-pk" transform="rotate(110.93 540 767) translate(540 259) rotate(-110.93) scale(.78)"/>
<use href="#f-kz" transform="rotate(112 540 767) translate(540 259) rotate(-112) scale(.78)"/>
<use href="#f-be" transform="rotate(293.52 540 767) translate(540 259) rotate(-293.52) scale(.78)"/>
<use href="#f-ie" transform="rotate(295.74 540 767) translate(540 259) rotate(-295.74) scale(.78)"/>
<use href="#f-se" transform="rotate(297.87 540 767) translate(540 259) rotate(-297.87) scale(.78)"/>
<use href="#f-at" transform="rotate(299.8 540 767) translate(540 259) rotate(-299.8) scale(.78)"/>
<use href="#f-no" transform="rotate(301.48 540 767) translate(540 259) rotate(-301.48) scale(.78)"/>
<use href="#f-dk" transform="rotate(303.01 540 767) translate(540 259) rotate(-303.01) scale(.78)"/>
<use href="#f-ro" transform="rotate(304.39 540 767) translate(540 259) rotate(-304.39) scale(.78)"/>
<use href="#f-cz" transform="rotate(305.65 540 767) translate(540 259) rotate(-305.65) scale(.78)"/>
<use href="#f-pt" transform="rotate(306.8 540 767) translate(540 259) rotate(-306.8) scale(.78)"/>
<use href="#f-fi" transform="rotate(307.83 540 767) translate(540 259) rotate(-307.83) scale(.78)"/>
<use href="#f-il" transform="rotate(324.21 540 767) translate(540 259) rotate(-324.21) scale(.78)"/>
<use href="#f-ae" transform="rotate(326.06 540 767) translate(540 259) rotate(-326.06) scale(.78)"/>
<use href="#f-ir" transform="rotate(327.45 540 767) translate(540 259) rotate(-327.45) scale(.78)"/>
<use href="#f-ar" transform="rotate(338.34 540 767) translate(540 259) rotate(-338.34) scale(.78)"/>
<use href="#f-co" transform="rotate(339.99 540 767) translate(540 259) rotate(-339.99) scale(.78)"/>
<use href="#f-cl" transform="rotate(341.2 540 767) translate(540 259) rotate(-341.2) scale(.78)"/>
<use href="#f-pe" transform="rotate(342.22 540 767) translate(540 259) rotate(-342.22) scale(.78)"/>
<use href="#f-za" transform="rotate(344.5 540 767) translate(540 259) rotate(-344.5) scale(.78)"/>
<use href="#f-eg" transform="rotate(345.74 540 767) translate(540 259) rotate(-345.74) scale(.78)"/>
<use href="#f-ng" transform="rotate(346.76 540 767) translate(540 259) rotate(-346.76) scale(.78)"/>
<use href="#f-dz" transform="rotate(347.6 540 767) translate(540 259) rotate(-347.6) scale(.78)"/>
<use href="#f-ma" transform="rotate(348.28 540 767) translate(540 259) rotate(-348.28) scale(.78)"/>
<use href="#f-nz" transform="rotate(359.47 540 767) translate(540 259) rotate(-359.47) scale(.78)"/>

<!-- Annotation -->
<g font-family="Liberation Serif, serif" font-size="23" fill="#3b3b3b">
<text x="915" y="282" textLength="97" lengthAdjust="spacingAndGlyphs">Projected</text>
<text x="915" y="308" textLength="83" lengthAdjust="spacingAndGlyphs">nominal</text>
<text x="915" y="334" textLength="108" lengthAdjust="spacingAndGlyphs">GDP (USD)</text>
</g>
<path d="M972 351 C976 388 958 414 923 421" fill="none" stroke="#444" stroke-width="1.4"/>
<path d="M931 414 L922 421 L932 426" fill="none" stroke="#444" stroke-width="1.4"/>

<!-- Footer -->
<g>
<circle cx="47" cy="1322" r="16" fill="none" stroke="#4a4845" stroke-width="4"/>
<circle cx="37" cy="1308" r="7" fill="#4a4845"/>
<circle cx="57" cy="1308" r="7" fill="#4a4845"/>
<ellipse cx="47" cy="1328" rx="10" ry="6.5" fill="#4a4845"/>
</g>
<text x="83" y="1328" font-family="Liberation Sans, sans-serif" font-weight="bold" font-size="21" fill="#4a4845" textLength="247" lengthAdjust="spacing">VISUAL CAPITALIST</text>
<g font-family="Liberation Sans, sans-serif" font-size="11.5" fill="#5a5a5a">
<text x="373" y="1311" textLength="684" lengthAdjust="spacingAndGlyphs">Pakistan figures as of 2025. Overseas territories shown separately. North America includes the Caribbean and Central America.</text>
<text x="369" y="1326" textLength="686" lengthAdjust="spacingAndGlyphs">Data unavailable for Afghanistan, Bolivia, Eritrea, Lebanon, Palestine, Sri Lanka, and Syria. Source: International Monetary Fund</text>
</g>
</svg>
</body></html>
